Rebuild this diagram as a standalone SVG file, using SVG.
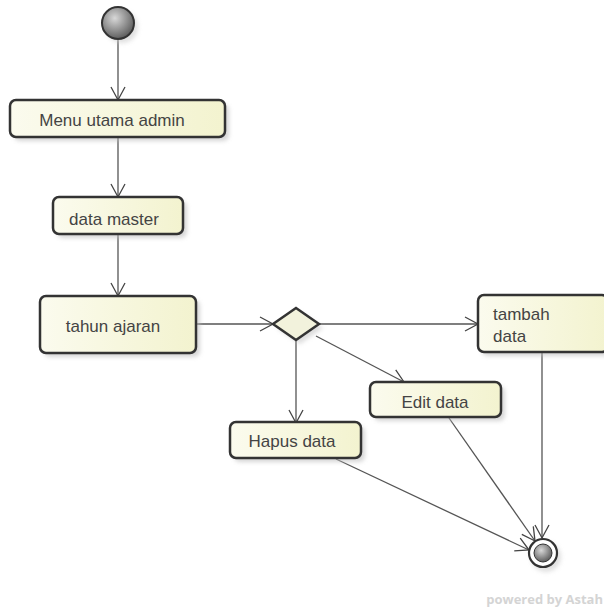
<svg xmlns="http://www.w3.org/2000/svg" width="604" height="611" viewBox="0 0 604 611">
<defs>
<linearGradient id="boxg" x1="0" y1="0" x2="1" y2="0">
<stop offset="0" stop-color="#fbfbee"/>
<stop offset="1" stop-color="#f3f3cf"/>
</linearGradient>
<radialGradient id="ballg" cx="0.4" cy="0.35" r="0.7">
<stop offset="0" stop-color="#d8d8d8"/>
<stop offset="1" stop-color="#555"/>
</radialGradient>
<filter id="sh" x="-20%" y="-20%" width="150%" height="160%">
<feGaussianBlur stdDeviation="2"/>
</filter>
<marker id="arr" markerWidth="16" markerHeight="16" refX="14" refY="8" orient="auto" markerUnits="userSpaceOnUse">
<path d="M1,1 L14,8 L1,15" fill="none" stroke="#444" stroke-width="1.3"/>
</marker>
</defs>
<style>
.box{fill:url(#boxg);stroke:#333;stroke-width:2.5}
.shadow{fill:#bbb;opacity:0.6;filter:url(#sh)}
.lbl{font-family:"Liberation Sans",Arial,sans-serif;font-size:17px;fill:#444}
.edge{fill:none;stroke:#555;stroke-width:1.3;marker-end:url(#arr)}
</style>
<rect width="604" height="611" fill="#ffffff"/>

<g id="connectors">
<line class="edge" x1="118" y1="40" x2="118" y2="100"/>
<line class="edge" x1="118" y1="137" x2="118" y2="197"/>
<line class="edge" x1="118" y1="234" x2="118" y2="296"/>
<line class="edge" x1="196" y1="324" x2="273" y2="324"/>
<line class="edge" x1="319" y1="324" x2="478" y2="324"/>
<line class="edge" x1="316" y1="336" x2="404" y2="382"/>
<line class="edge" x1="296" y1="340" x2="296" y2="423"/>
<line class="edge" x1="336" y1="459" x2="529" y2="550"/>
<line class="edge" x1="449" y1="418" x2="535" y2="541"/>
<line class="edge" x1="542" y1="353" x2="542" y2="538"/>
</g>

<g id="start">
<circle cx="122" cy="27" r="16" fill="#ccc" opacity="0.6" filter="url(#sh)"/>
<circle cx="118" cy="23" r="16" fill="url(#ballg)" stroke="#333" stroke-width="2"/>
</g>

<g id="menu-utama-admin">
<rect class="shadow" x="14" y="104" width="215" height="37" rx="6"/>
<rect class="box" x="10" y="100" width="215" height="37" rx="6"/>
<text class="lbl" x="112" y="126" text-anchor="middle">Menu utama admin</text>
</g>

<g id="data-master">
<rect class="shadow" x="57" y="201" width="130" height="37" rx="6"/>
<rect class="box" x="53" y="197" width="130" height="37" rx="6"/>
<text class="lbl" x="114" y="225" text-anchor="middle">data master</text>
</g>

<g id="tahun-ajaran">
<rect class="shadow" x="44" y="300" width="156" height="57" rx="6"/>
<rect class="box" x="40" y="296" width="156" height="57" rx="6"/>
<text class="lbl" x="113" y="332" text-anchor="middle">tahun ajaran</text>
</g>

<g id="decision">
<path d="M300,312 L323,328 L300,344 L277,328 Z" fill="#bbb" opacity="0.5" filter="url(#sh)"/>
<path d="M296,308 L319,324 L296,340 L273,324 Z" fill="#f2f2dc" stroke="#333" stroke-width="2.5"/>
</g>

<g id="tambah-data">
<rect class="shadow" x="482" y="299" width="130" height="57" rx="6"/>
<rect class="box" x="478" y="295" width="130" height="57" rx="6"/>
<text class="lbl" x="493" y="320">tambah</text>
<text class="lbl" x="493" y="342">data</text>
</g>

<g id="edit-data">
<rect class="shadow" x="374" y="386" width="131" height="35" rx="6"/>
<rect class="box" x="370" y="382" width="131" height="35" rx="6"/>
<text class="lbl" x="435" y="408" text-anchor="middle">Edit data</text>
</g>

<g id="hapus-data">
<rect class="shadow" x="234" y="426" width="131" height="36" rx="6"/>
<rect class="box" x="230" y="422" width="131" height="36" rx="6"/>
<text class="lbl" x="292" y="447" text-anchor="middle">Hapus data</text>
</g>

<g id="end">
<circle cx="546" cy="557" r="15" fill="#ccc" opacity="0.6" filter="url(#sh)"/>
<circle cx="543" cy="553" r="14" fill="#fff" stroke="#333" stroke-width="2.2"/>
<circle cx="543" cy="553" r="9" fill="url(#ballg)" stroke="#333" stroke-width="1"/>
</g>

<text x="603" y="604" text-anchor="end" font-family="'Open Sans','DejaVu Sans',sans-serif" font-size="13" font-weight="bold" fill="#d4d4d4">powered by Astah</text>
</svg>
